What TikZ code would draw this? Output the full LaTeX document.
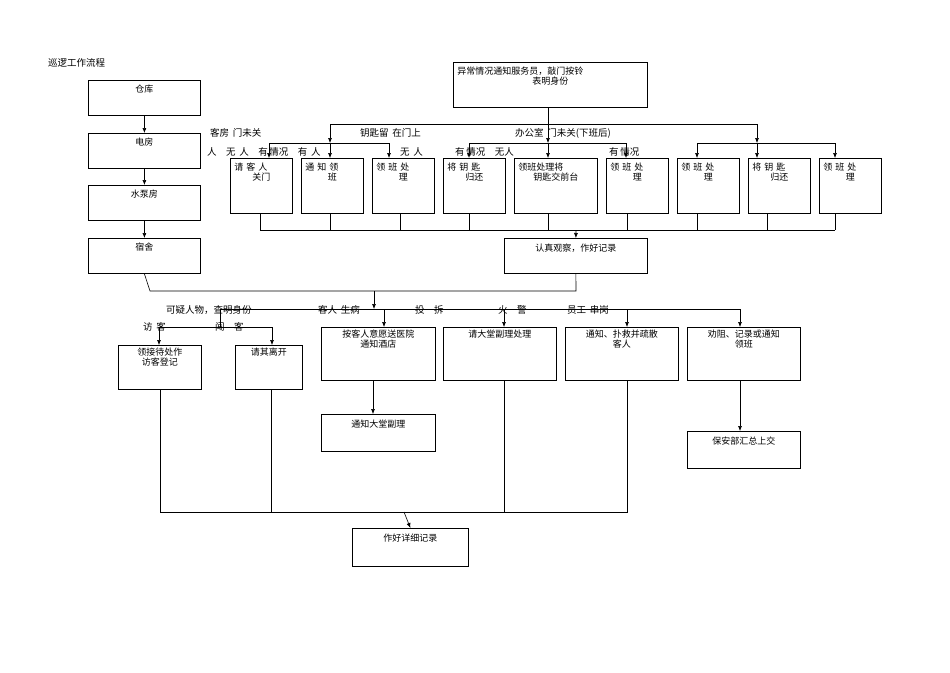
\documentclass[tikz,border=0pt]{standalone}
\usepackage{fontspec}
\newfontfamily\cjk{Noto Sans CJK SC}
\usetikzlibrary{arrows.meta}
\begin{document}
\begin{tikzpicture}[x=1pt,y=-1pt,
  bx/.style={draw,line width=0.8pt,anchor=north west,inner sep=0pt},
  tx/.style={anchor=north,font=\cjk\fontsize{9}{10}\selectfont,align=center,inner sep=0pt},
  lb/.style={anchor=west,font=\cjk\fontsize{9.5}{10}\selectfont,inner sep=0pt},
  ln/.style={line width=0.6pt},
  ar/.style={line width=0.6pt,-{Latex[length=5pt,width=4pt]}}]
\useasboundingbox (0,0) rectangle (950,672);
\newcommand\bxx[7]{\node[bx,minimum width=#4,minimum height=#5] (#1) at (#2,#3) {};
  \node[tx,text width=#4-8] at ([yshift=-#6]#1.north) {#7};}
\node[lb] (title) at (48,63) {巡逻工作流程};
% left column
\bxx{ck}{88}{80}{112}{35}{5}{仓库}
\bxx{df}{88}{133}{112}{35}{5}{电房}
\bxx{sb}{88}{185}{112}{35}{5}{水泵房}
\bxx{ss}{88}{238}{112}{35}{5}{宿舍}
\draw[ar] (ck) -- (df); \draw[ar] (df) -- (sb); \draw[ar] (sb) -- (ss);
% top
\bxx{top}{453}{62}{194}{45}{5}{\raggedright 异常情况通知服务员，敲门按铃\\表明身份}
\bxx{b1}{230}{158}{62}{55}{5}{\raggedright 请 客 人\\关门}
\bxx{b2}{301}{158}{62}{55}{5}{\raggedright 通 知 领\\班}
\bxx{b3}{372}{158}{62}{55}{5}{\raggedright 领 班 处\\理}
\bxx{b4}{443}{158}{62}{55}{5}{\raggedright 将 钥 匙\\归还}
\bxx{b5}{514}{158}{83}{55}{5}{\raggedright 领班处理将\\钥匙交前台}
\bxx{b6}{606}{158}{62}{55}{5}{\raggedright 领 班 处\\理}
\bxx{b7}{677}{158}{62}{55}{5}{\raggedright 领 班 处\\理}
\bxx{b8}{748}{158}{62}{55}{5}{\raggedright 将 钥 匙\\归还}
\bxx{b9}{819}{158}{62}{55}{5}{\raggedright 领 班 处\\理}
\bxx{rz}{504}{238}{143}{35}{6}{认真观察，作好记录}
\draw[ln] (548,107) -- (548,124);
\draw[ln] (330,124) -- (757,124);
\draw[ar] (330,124) -- (330,143); \draw[ar] (548,124) -- (548,143); \draw[ar] (757,124) -- (757,143);
\draw[ln] (269,143) -- (389,143); \draw[ln] (469,143) -- (626,143); \draw[ln] (697,143) -- (835,143);
\foreach \x/\b in {269/b1,330/b2,389/b3,469/b4,548/b5,626/b6,697/b7,757/b8,835/b9}
  \draw[ar] (\x,143) -- (\x,158);
\foreach \x in {260,330,400,469,548,627,697,767,835} \draw[ln] (\x,213) -- (\x,230);
\draw[ln] (260,230) -- (835,230);
\draw[ar] (576,230) -- (rz.north);
\node[lb] at (210,133) {客房\, 门未关};
\node[lb] at (360,133) {钥匙留\, 在门上};
\node[lb] at (515,133) {办公室\, 门未关(下班后)};
\node[lb] at (207,152) {人\quad 无\, 人\quad 有\,情况\quad 有\, 人};
\node[lb] at (400,152) {无\, 人};
\node[lb] at (455,152) {有\,情况\quad 无人};
\node[lb] at (609,152) {有\,情况};
% middle
\draw[ln] (ss.south) -- (150,291) -- (576,291) -- (rz.south);
\draw[ar] (374,291) -- (374,309);
\draw[ln] (220,309) -- (740,309);
\draw[ln] (220,309) -- (220,327) ; \draw[ln] (159,327) -- (272,327);
\bxx{m1}{118}{345}{83}{44}{3}{领接待处作\\访客登记}
\bxx{m2}{235}{345}{67}{44}{3}{请其离开}
\bxx{m3}{321}{327}{114}{53}{3}{按客人意愿送医院\\通知酒店}
\bxx{m4}{443}{327}{113}{53}{3}{请大堂副理处理}
\bxx{m5}{565}{327}{113}{53}{3}{通知、扑救并疏散\\客人}
\bxx{m6}{687}{327}{113}{53}{3}{劝阻、记录或通知\\领班}
\bxx{n3}{321}{414}{114}{37}{6}{通知大堂副理}
\bxx{n6}{687}{431}{113}{37}{6}{保安部汇总上交}
\bxx{fin}{352}{528}{116}{38}{6}{作好详细记录}
\draw[ar] (159,327) -- (159,345); \draw[ar] (272,327) -- (272,345);
\draw[ar] (384,309) -- (384,327); \draw[ar] (504,309) -- (504,327);
\draw[ar] (627,309) -- (627,327); \draw[ar] (740,309) -- (740,327);
\draw[ar] (373,380) -- (373,414); \draw[ar] (740,380) -- (740,431);
\draw[ln] (160,389) -- (160,512) -- (627,512) -- (627,380);
\draw[ln] (271,389) -- (271,512); \draw[ln] (504,380) -- (504,512);
\draw[ar] (404,512) -- (fin.north);
\node[lb] at (166,310) {可疑人物，查明身份};
\node[lb] at (318,310) {客人\,\ 生病};
\node[lb] at (415,310) {投\quad 拆};
\node[lb] at (498,310) {火\quad 警};
\node[lb] at (567,310) {员工\,\ 串岗};
\node[lb] at (143,327) {访\, 客};
\node[lb] at (215,327) {闯\quad 客};
\end{tikzpicture}
\end{document}
